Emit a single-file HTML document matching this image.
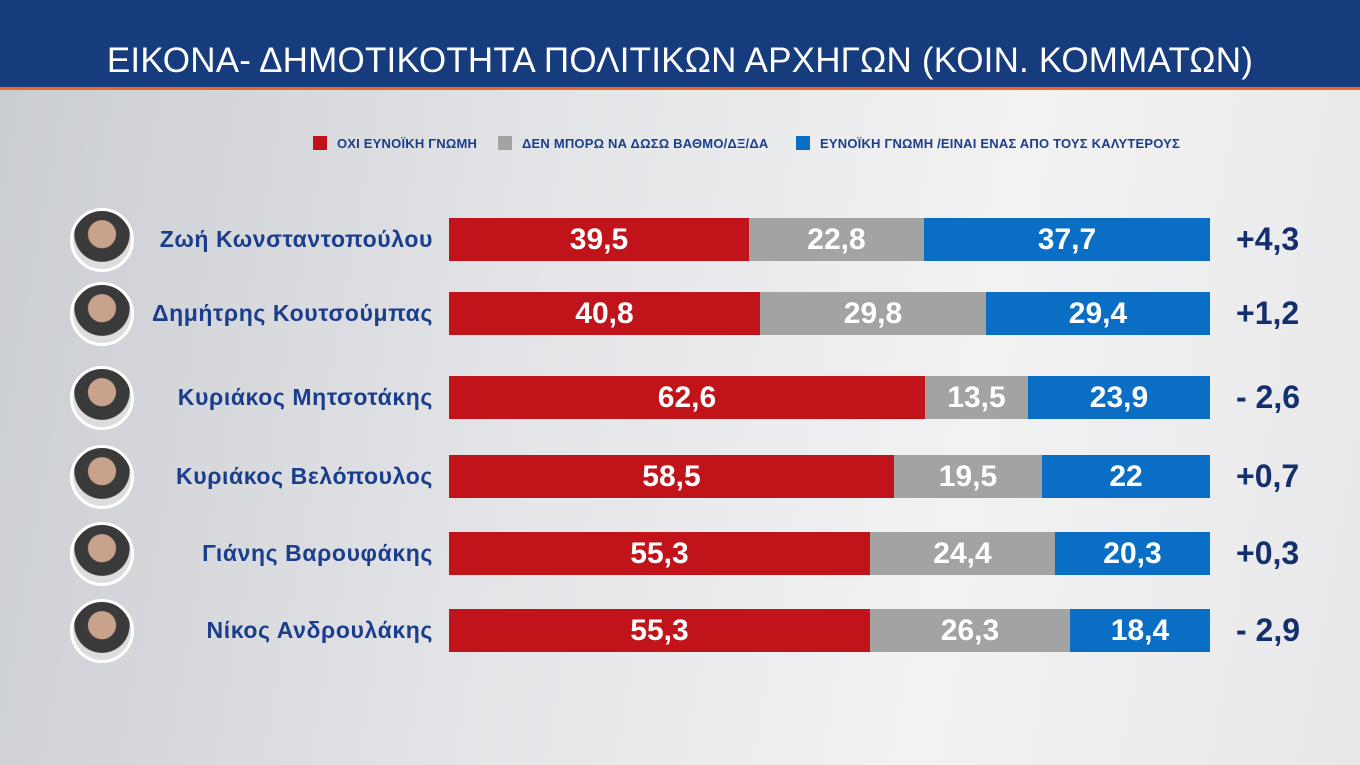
<!DOCTYPE html><html><head><meta charset="utf-8"><style>
body{margin:0;width:1360px;height:765px;overflow:hidden;font-family:"Liberation Sans","DejaVu Sans",sans-serif;background:linear-gradient(100deg,#c9ccd1 0%,#e4e5e8 40%,#f2f2f3 70%,#e8e8ea 100%);position:relative}
.hdr{position:absolute;left:0;top:0;width:1360px;height:87px;background:#173c7e}
.or{position:absolute;left:0;top:87px;width:1360px;height:3px;background:#f26522}
.title{position:absolute;left:0;width:1360px;top:38px;text-align:center;color:#fff;font-size:35px;line-height:46px;letter-spacing:0.2px}
.leg{position:absolute;top:136px;font-size:13px;font-weight:bold;color:#1a3d8c;line-height:16px;letter-spacing:0.2px}
.leg i{display:inline-block;width:14px;height:14px;vertical-align:-2px;margin-right:10px}
.row{position:absolute;left:0;width:1360px;height:43px}
.av{position:absolute;left:70px;width:58px;height:58px;border-radius:50%;border:3px solid #fff;top:-10px;background:radial-gradient(circle at 50% 40%,#c9a28c 0 30%,#3a3a3a 32% 60%,#ddd 62%)}
.nm{position:absolute;right:927px;top:8px;font-size:23px;font-weight:bold;color:#1a3d8c;white-space:nowrap;letter-spacing:0.6px}
.bar{position:absolute;left:449px;top:0;width:761px;height:43px;display:flex}
.bar div{height:43px;color:#fff;font-weight:bold;font-size:30px;text-align:center;line-height:43px}
.r{background:#c1141a}.g{background:#a3a3a3}.b{background:#0a6fc4}
.d{position:absolute;left:1236px;top:3px;font-size:32px;font-weight:bold;color:#142f6e;white-space:pre}
</style></head><body>
<div class="hdr"></div><div class="or"></div>
<div class="title">ΕΙΚΟΝΑ- ΔΗΜΟΤΙΚΟΤΗΤΑ ΠΟΛΙΤΙΚΩΝ ΑΡΧΗΓΩΝ (ΚΟΙΝ. ΚΟΜΜΑΤΩΝ)</div>
<div class="leg" style="left:313px"><i style="background:#c1141a"></i>ΟΧΙ ΕΥΝΟΪΚΗ ΓΝΩΜΗ</div>
<div class="leg" style="left:498px"><i style="background:#a3a3a3"></i>ΔΕΝ ΜΠΟΡΩ ΝΑ ΔΩΣΩ ΒΑΘΜΟ/ΔΞ/ΔΑ</div>
<div class="leg" style="left:796px"><i style="background:#0a6fc4"></i>ΕΥΝΟΪΚΗ ΓΝΩΜΗ /ΕΙΝΑΙ ΕΝΑΣ ΑΠΟ ΤΟΥΣ ΚΑΛΥΤΕΡΟΥΣ</div>

<div class="row" style="top:218px"><div class="av"></div><div class="nm">Ζωή Κωνσταντοπούλου</div><div class="bar"><div class="r" style="width:300px">39,5</div><div class="g" style="width:175px">22,8</div><div class="b" style="width:286px">37,7</div></div><div class="d">+4,3</div></div>
<div class="row" style="top:292px"><div class="av"></div><div class="nm">Δημήτρης Κουτσούμπας</div><div class="bar"><div class="r" style="width:311px">40,8</div><div class="g" style="width:226px">29,8</div><div class="b" style="width:224px">29,4</div></div><div class="d">+1,2</div></div>
<div class="row" style="top:376px"><div class="av"></div><div class="nm">Κυριάκος Μητσοτάκης</div><div class="bar"><div class="r" style="width:476px">62,6</div><div class="g" style="width:103px">13,5</div><div class="b" style="width:182px">23,9</div></div><div class="d">- 2,6</div></div>
<div class="row" style="top:455px"><div class="av"></div><div class="nm">Κυριάκος Βελόπουλος</div><div class="bar"><div class="r" style="width:445px">58,5</div><div class="g" style="width:148px">19,5</div><div class="b" style="width:168px">22</div></div><div class="d">+0,7</div></div>
<div class="row" style="top:532px"><div class="av"></div><div class="nm">Γιάνης Βαρουφάκης</div><div class="bar"><div class="r" style="width:421px">55,3</div><div class="g" style="width:185px">24,4</div><div class="b" style="width:155px">20,3</div></div><div class="d">+0,3</div></div>
<div class="row" style="top:609px"><div class="av"></div><div class="nm">Νίκος Ανδρουλάκης</div><div class="bar"><div class="r" style="width:421px">55,3</div><div class="g" style="width:200px">26,3</div><div class="b" style="width:140px">18,4</div></div><div class="d">- 2,9</div></div>
</body></html>
